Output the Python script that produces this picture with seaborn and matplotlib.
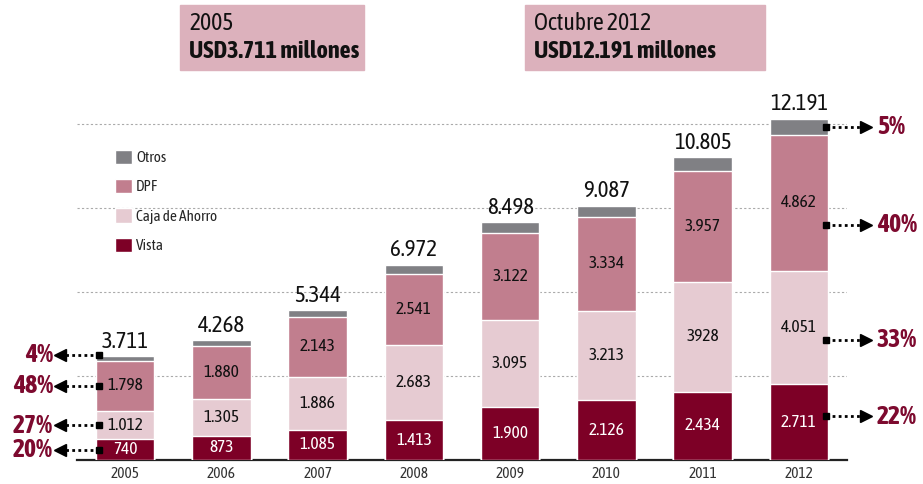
import numpy as np
import pandas as pd
import matplotlib.pyplot as plt
import seaborn as sns
from matplotlib.patches import Rectangle

# Data (USD millones)
years = ['2005', '2006', '2007', '2008', '2009', '2010', '2011', '2012']
vista = [740, 873, 1085, 1413, 1900, 2126, 2434, 2711]
caja = [1012, 1305, 1886, 2683, 3095, 3213, 3928, 4051]
dpf = [1798, 1880, 2143, 2541, 3122, 3334, 3957, 4862]
totals = [3711, 4268, 5344, 6972, 8498, 9087, 10805, 12191]
otros = [t - v - c - d for t, v, c, d in zip(totals, vista, caja, dpf)]

vista_lbl = ['740', '873', '1.085', '1.413', '1.900', '2.126', '2.434', '2.711']
caja_lbl = ['1.012', '1.305', '1.886', '2.683', '3.095', '3.213', '3928', '4.051']
dpf_lbl = ['1.798', '1.880', '2.143', '2.541', '3.122', '3.334', '3.957', '4.862']
total_lbl = ['3.711', '4.268', '5.344', '6.972', '8.498', '9.087', '10.805', '12.191']

left_pct = ['4%', '48%', '27%', '20%']
right_pct = ['5%', '40%', '33%', '22%']

c_vista = '#7d0026'
c_caja = '#e6cbd2'
c_dpf = '#c17e8e'
c_otros = '#808084'
c_pct = '#7d0a2f'

sns.set_style('white')
plt.rcParams['font.family'] = ['Asap Condensed', 'DejaVu Sans']

df = pd.DataFrame({'year': years, 'Vista': vista, 'Caja de Ahorro': caja,
                   'DPF': dpf, 'Otros': otros})
df['c1'] = df['Vista']
df['c2'] = df['c1'] + df['Caja de Ahorro']
df['c3'] = df['c2'] + df['DPF']
df['c4'] = df['c3'] + df['Otros']

fig = plt.figure(figsize=(9.23, 4.84), dpi=100)
ax = fig.add_axes([77 / 923, 24 / 484, 770 / 923, 364 / 484])

# stacked bars: tallest first, each layer overlaps the one below
layers = [('c4', c_otros, 'Otros'), ('c3', c_dpf, 'DPF'),
          ('c2', c_caja, 'Caja de Ahorro'), ('c1', c_vista, 'Vista')]
for col, colr, name in layers:
    sns.barplot(data=df, x='year', y=col, color=colr, width=0.61,
                saturation=1, label=name, ax=ax, zorder=3)

ax.set_xlim(-0.5, 7.5)
ax.set_ylim(0, 13000)
ax.set_xlabel('')
ax.set_ylabel('')
ax.set_yticks([3000, 6000, 9000, 12000])
ax.set_yticklabels([])
ax.tick_params(axis='y', length=0)
ax.grid(axis='y', color='#aaaaaa', linestyle=(0, (2, 2)), linewidth=0.8, zorder=0)
for s in ['left', 'right', 'top']:
    ax.spines[s].set_visible(False)
ax.spines['bottom'].set_linewidth(1.6)
ax.spines['bottom'].set_color('#222222')
ax.set_xticks(range(len(years)))
ax.set_xticklabels(years, fontsize=11, color='#333333')
ax.tick_params(axis='x', length=0, pad=5)
ax.set_xticks(np.arange(-0.5, 8, 1), minor=True)
ax.tick_params(axis='x', which='minor', direction='in', length=6, width=1.2, color='#222222')

# segment labels
x = np.arange(len(years))
for i in x:
    ax.text(i, vista[i] / 2, vista_lbl[i], ha='center', va='center',
            fontsize=12.5, color='white', zorder=5)
    ax.text(i, vista[i] + caja[i] / 2, caja_lbl[i], ha='center', va='center',
            fontsize=12.5, color='#111111', zorder=5)
    ax.text(i, vista[i] + caja[i] + dpf[i] / 2, dpf_lbl[i], ha='center',
            va='center', fontsize=12.5, color='#111111', zorder=5)
    ax.annotate(total_lbl[i], (i, totals[i]), xytext=(0, 6),
                textcoords='offset points', ha='center', va='baseline',
                fontsize=16.5, color='#111111')

# legend
handles, labels = ax.get_legend_handles_labels()
ax.legend(handles, labels, loc='upper left', bbox_to_anchor=(101 / 923, 1 - 136 / 484),
          bbox_transform=fig.transFigure, frameon=False, fontsize=11,
          handlelength=1.1, handleheight=1.05, handletextpad=0.3, labelspacing=0.92)

# percentage arrows
def mids(i):
    return [vista[i] + caja[i] + dpf[i] + otros[i] / 2,
            vista[i] + caja[i] + dpf[i] / 2,
            vista[i] + caja[i] / 2,
            vista[i] / 2]

left_y = mids(0)
left_y[0] += 120
for y, txt in zip(left_y, left_pct):
    ax.plot([-0.27, -0.66], [y, y], color='black', linestyle=(0, (1, 1.2)),
            linewidth=2, clip_on=False, zorder=6)
    ax.plot([-0.27], [y], marker='s', markersize=5, color='black', clip_on=False, zorder=6)
    ax.plot([-0.68], [y], marker='<', markersize=8, color='black', clip_on=False, zorder=6)
    ax.text(-0.75, y, txt, ha='right', va='center', fontsize=18.5,
            fontweight='bold', color=c_pct)

right_y = mids(7)
right_y = [right_y[0], right_y[1] - 800, right_y[2] - 450, right_y[3] + 200]
for y, txt in zip(right_y, right_pct):
    ax.plot([7.28, 7.68], [y, y], color='black', linestyle=(0, (1, 1.2)),
            linewidth=2, clip_on=False, zorder=6)
    ax.plot([7.28], [y], marker='s', markersize=5, color='black', clip_on=False, zorder=6)
    ax.plot([7.7], [y], marker='>', markersize=8, color='black', clip_on=False, zorder=6)
    ax.text(7.81, y, txt, ha='left', va='center', fontsize=18.5,
            fontweight='bold', color=c_pct)

# header boxes
W, H = 923, 484
for (x0, x1, top, bottom) in [(180, 364, '2005', 'USD3.711 millones'),
                              (525, 765, 'Octubre 2012', 'USD12.191 millones')]:
    fig.patches.append(Rectangle((x0 / W, 1 - 70 / H), (x1 - x0) / W, 65 / H,
                                 transform=fig.transFigure, color='#dcb1bc', zorder=0))
    fig.text((x0 + 9) / W, 1 - 24 / H, top, fontsize=17, va='center', color='#111111')
    fig.text((x0 + 9) / W, 1 - 51 / H, bottom, fontsize=17.5, va='center',
             fontweight='bold', color='#111111')

fig.savefig('out.png', dpi=100)
